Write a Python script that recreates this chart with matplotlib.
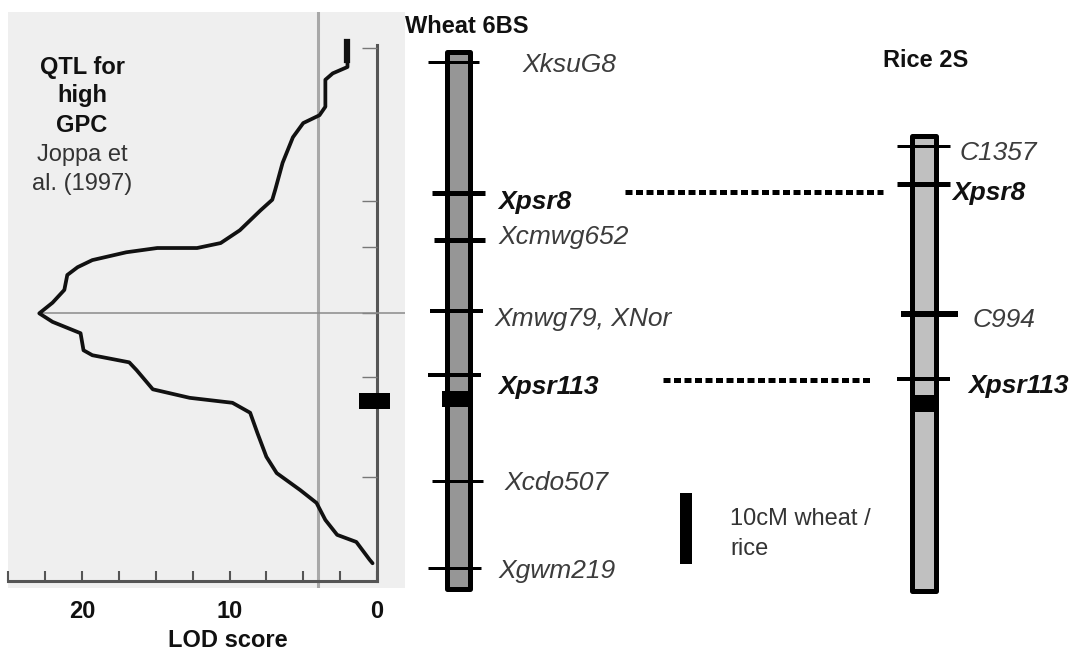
import matplotlib.pyplot as plt
from matplotlib.patches import Rectangle
from matplotlib.ticker import MultipleLocator, FixedLocator

plt.rcParams['font.family'] = ['Liberation Sans', 'DejaVu Sans']

# Wheat 6BS map (cM below XksuG8)
wheat_markers = ['XksuG8', 'Xpsr8', 'Xcmwg652', 'Xmwg79, XNor', 'Xpsr113', 'Xcdo507', 'Xgwm219']
wheat_cm = [0.0, 18.5, 25.1, 35.1, 44.1, 59.0, 71.3]
wheat_bold = [False, True, False, False, True, False, False]
wheat_ends = [-1.7, 74.6]
wheat_qtl = [46.3, 48.6]

# Rice 2S map (cM below C1357)
rice_markers = ['C1357', 'Xpsr8', 'C994', 'Xpsr113']
rice_cm = [0.0, 5.4, 23.7, 32.8]
rice_bold = [False, True, False, True]
rice_ends = [-1.8, 63.0]
rice_qtl = [35.1, 37.5]
rice_offset = 11.8   # C1357 sits at this wheat cM level

# LOD profile, Joppa et al. (1997)
lod_pos = [-2.8, -0.3, 0.7, 1.6, 2.5, 6.3, 7.5, 8.6, 10.6, 14.2, 18.0, 19.4, 20.9,
           23.7, 25.5, 26.2, 26.2, 26.8, 27.9, 28.9, 30.0, 32.1, 33.9, 35.4, 36.6,
           38.2, 40.6, 41.3, 42.3, 43.4, 46.1, 47.3, 48.0, 49.4, 52.3, 55.6, 57.9,
           60.3, 62.1, 64.5, 66.6, 67.6, 70.1, 70.6]
lod_val = [2.0, 2.0, 2.0, 3.0, 3.5, 3.5, 3.9, 5.0, 5.7, 6.4, 6.9, 7.1, 7.9,
           9.3, 10.6, 12.2, 14.9, 17.0, 19.3, 20.3, 21.0, 21.2, 22.0, 22.9, 22.0,
           20.1, 19.9, 19.3, 16.8, 16.3, 15.2, 12.7, 9.8, 8.6, 8.1, 7.5, 6.8,
           5.2, 4.1, 3.5, 2.7, 1.4, 0.5, 0.3]
lod_threshold = 4.0
lod_axis_ticks = [-2.0, 19.6, 26.1, 35.4, 44.4, 58.5]
scale_cm = 10

W, H = 1080, 650
PX_CM = 7.1
Y0 = 62


def cm(py):
    # pixel row -> cM on the wheat scale
    return (py - Y0) / PX_CM


fig = plt.figure(figsize=(W / 100, H / 100), dpi=100)
fig.patch.set_facecolor('white')

# ---- LOD panel ----
ax_lod = fig.add_axes([8 / W, (H - 588) / H, 397 / W, 576 / H])
ax_lod.set_facecolor('#efefef')
ax_lod.set_xlim(25.02, -1.90)
ax_lod.set_ylim(cm(588), cm(12))
for s in ['top', 'left', 'right']:
    ax_lod.spines[s].set_visible(False)
ax_lod.spines['bottom'].set_position(('data', cm(581)))
ax_lod.spines['bottom'].set_bounds(25.02, 0)
ax_lod.spines['bottom'].set_color('#555555')
ax_lod.spines['bottom'].set_linewidth(2.2)
ax_lod.xaxis.set_major_locator(FixedLocator([20, 10, 0]))
ax_lod.xaxis.set_minor_locator(MultipleLocator(2.5))
ax_lod.set_xticklabels(['20', '10', '0'])
ax_lod.tick_params(axis='x', which='both', direction='in', length=7, width=1.5,
                   color='#555555', pad=14, labelsize=17, labelcolor='#111111')
for t in ax_lod.get_xticklabels():
    t.set_fontweight('bold')
ax_lod.set_yticks([])

ax_lod.axvline(lod_threshold, color='#a8a8a8', lw=2.2, zorder=1)
ax_lod.plot([0, 0], [cm(45), cm(581)], color='#555555', lw=2.2, zorder=2)
ax_lod.hlines(lod_axis_ticks, 1.0, 0, color='#777777', lw=1, zorder=2)
ipk = lod_val.index(max(lod_val))
ax_lod.hlines(lod_pos[ipk], lod_val[ipk], -1.9, color='#8a8a8a', lw=1.1, zorder=2)
ax_lod.plot(lod_val, lod_pos, color='#111111', lw=2.7, solid_joinstyle='round',
            solid_capstyle='round', zorder=3)
ax_lod.plot(lod_val[:2], lod_pos[:2], color='#111111', lw=4.5, zorder=3)
ax_lod.add_patch(Rectangle((-0.88, wheat_qtl[0] + 0.3), 2.1, wheat_qtl[1] - wheat_qtl[0],
                           facecolor='black', edgecolor='none', zorder=4))

# ---- maps ----
ax = fig.add_axes([0, 0, 1, 1])
ax.set_xlim(0, W)
ax.set_ylim(cm(H), cm(0))
ax.axis('off')

BORDER = 5


def chromosome(x0, x1, top, bot, fill):
    inset = BORDER / 2 / PX_CM
    ax.add_patch(Rectangle((x0 + BORDER / 2, top + inset), x1 - x0 - BORDER, bot - top - 2 * inset,
                           facecolor=fill, edgecolor='black', lw=BORDER * 0.72,
                           joinstyle='round', zorder=2))


# wheat
chromosome(444, 472, wheat_ends[0], wheat_ends[1], '#969696')
ax.add_patch(Rectangle((442, wheat_qtl[0]), 27, wheat_qtl[1] - wheat_qtl[0],
                       facecolor='black', edgecolor='none', zorder=3))
w_tick_x = [(428, 479), (432, 485), (434, 485), (430, 483), (428, 481), (432, 483), (428, 481)]
w_tick_lw = [3, 5, 5, 4, 4, 3, 3]
w_lab_x = [522, 498, 498, 495, 498, 504, 498]
w_lab_dy = [10, 16, 4, 15, 19, 9, 10]
for i, name in enumerate(wheat_markers):
    y = wheat_cm[i]
    ax.hlines(y, w_tick_x[i][0], w_tick_x[i][1], color='black', lw=w_tick_lw[i] * 0.72, zorder=4)
    ax.text(w_lab_x[i], y + w_lab_dy[i] / PX_CM, name, fontsize=19, style='italic',
            fontweight='bold' if wheat_bold[i] else 'normal',
            color='#111111' if wheat_bold[i] else '#3c3c3c', va='baseline', ha='left')

# rice
r = [v + rice_offset for v in rice_cm]
chromosome(909, 938, rice_ends[0] + rice_offset, rice_ends[1] + rice_offset, '#c0c0c0')
ax.add_patch(Rectangle((911, rice_qtl[0] + rice_offset), 25, rice_qtl[1] - rice_qtl[0],
                       facecolor='black', edgecolor='none', zorder=3))
r_tick_x = [(897, 950), (897, 950), (901, 958), (897, 950)]
r_tick_lw = [3, 5, 6, 4]
r_lab_x = [960, 952, 973, 968]
r_lab_dy = [14, 16, 13, 14]
for i, name in enumerate(rice_markers):
    ax.hlines(r[i], r_tick_x[i][0], r_tick_x[i][1], color='black', lw=r_tick_lw[i] * 0.72, zorder=4)
    ax.text(r_lab_x[i], r[i] + r_lab_dy[i] / PX_CM, name, fontsize=19, style='italic',
            fontweight='bold' if rice_bold[i] else 'normal',
            color='#111111' if rice_bold[i] else '#3c3c3c', va='baseline', ha='left')

# dotted links between shared markers
link_x = {'Xpsr8': (625, 883), 'Xpsr113': (663, 872)}
link_dy = {'Xpsr8': -1, 'Xpsr113': 5}
for name in rice_markers:
    if name in wheat_markers:
        y = wheat_cm[wheat_markers.index(name)] + link_dy[name] / PX_CM
        ax.plot(link_x[name], [y, y], color='black', lw=3.6,
                linestyle=(0, (1.4, 0.7)), dash_capstyle='butt', zorder=4)

# scale bar
ax.add_patch(Rectangle((680, cm(493)), 12, scale_cm, facecolor='black', edgecolor='none'))
ax.text(730, cm(525), '10cM wheat /', fontsize=17, color='#333333', va='baseline')
ax.text(730, cm(555), 'rice', fontsize=17, color='#333333', va='baseline')

# titles
ax.text(405, cm(33), 'Wheat 6BS', fontsize=17, fontweight='bold', color='#111111', va='baseline')
ax.text(883, cm(67), 'Rice 2S', fontsize=17, fontweight='bold', color='#111111', va='baseline')

qtl_lines = [('QTL for', 'bold', 74), ('high', 'bold', 102), ('GPC', 'bold', 132),
             ('Joppa et', 'normal', 161), ('al. (1997)', 'normal', 190)]
for txt, wt, base in qtl_lines:
    ax.text(82, cm(base), txt, fontsize=17, fontweight=wt,
            color='#111111' if wt == 'bold' else '#333333', ha='center', va='baseline')

ax.text(228, cm(647), 'LOD score', fontsize=17, fontweight='bold', color='#111111',
        ha='center', va='baseline')

fig.savefig('out.png', dpi=100)
